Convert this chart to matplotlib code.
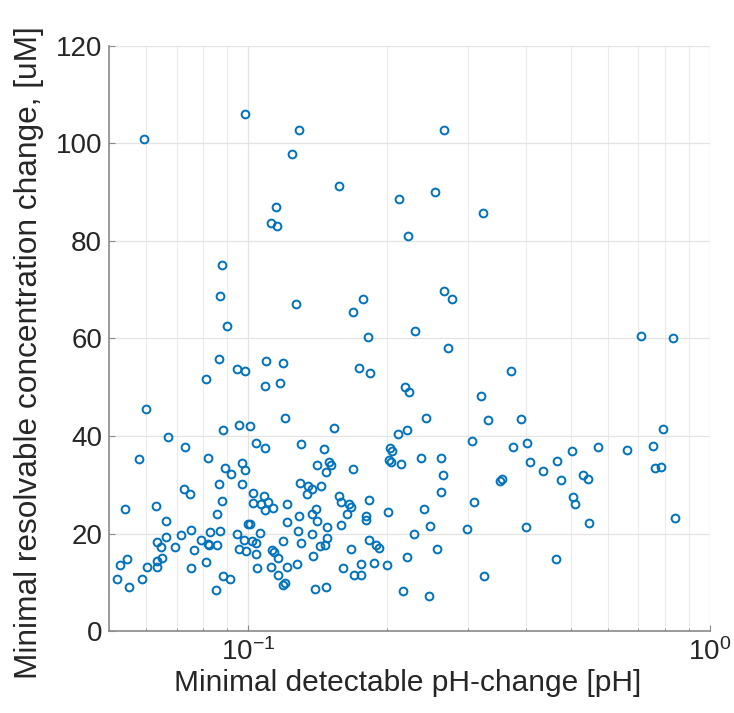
import numpy as np
import matplotlib.pyplot as plt
from matplotlib.ticker import LogLocator, NullFormatter

plt.rcParams['font.family'] = ['Liberation Sans', 'DejaVu Sans']

# minimal detectable pH-change [pH]
ph_change = [
    0.0985, 0.0596, 0.0877, 0.0868, 0.0901, 0.129, 0.1245, 0.157, 0.1148, 0.1122,
    0.1155, 0.212, 0.2223, 0.1272, 0.177, 0.169, 0.182, 0.230, 0.265, 0.254,
    0.323, 0.265, 0.277, 0.710, 0.831,
    0.0864, 0.0812, 0.0945, 0.0985, 0.0602, 0.0671, 0.0884, 0.0956, 0.1009, 0.1041,
    0.0730, 0.0581, 0.0818, 0.0892, 0.0917, 0.0972, 0.0985, 0.0866, 0.0970, 0.0727,
    0.0749, 0.1024, 0.0877, 0.1025, 0.0541, 0.0631, 0.0857, 0.0665, 0.0998, 0.1009,
    0.0754, 0.0829, 0.0870, 0.0947, 0.0715, 0.0663, 0.0790, 0.0635, 0.0980, 0.1019,
    0.1041, 0.0648, 0.0817, 0.0825, 0.0857, 0.0696, 0.0956, 0.0990, 0.0765, 0.1039,
    0.0547, 0.0650, 0.0636, 0.0529, 0.0811, 0.0605, 0.0635, 0.0752, 0.1047, 0.0520,
    0.0590, 0.0883, 0.0916, 0.0553, 0.0854,
    0.1094, 0.1191, 0.1736, 0.1837, 0.1087, 0.1171, 0.2184, 0.2228, 0.1203, 0.1538,
    0.2115, 0.2209, 0.1087, 0.1300, 0.1460, 0.2026, 0.2053, 0.2022, 0.2036, 0.2147,
    0.1413, 0.1495, 0.1514, 0.1475, 0.1685, 0.1298, 0.1351, 0.1378, 0.1340, 0.1441,
    0.1083, 0.1106, 0.1065, 0.1087, 0.1133, 0.1213, 0.1576, 0.1590, 0.1654, 0.1669,
    0.1638, 0.1827, 0.2006, 0.1403, 0.1378, 0.1408, 0.1287, 0.1216, 0.1798, 0.1804,
    0.1592, 0.1480, 0.1281, 0.1378, 0.1063, 0.2287, 0.1191, 0.1302, 0.1485, 0.1432,
    0.1468, 0.1825, 0.1890, 0.1924, 0.1671, 0.1129, 0.1137, 0.1161, 0.1383, 0.2206,
    0.1122, 0.1216, 0.1275, 0.1608, 0.1754, 0.1877, 0.1996, 0.1693, 0.1754, 0.1160,
    0.1189, 0.1204, 0.1394, 0.1477, 0.2165,
    0.2709, 0.371, 0.3194, 0.2424, 0.331, 0.390, 0.305, 0.375, 0.402, 0.237,
    0.262, 0.264, 0.262, 0.408, 0.435, 0.467, 0.475, 0.351, 0.354, 0.3085,
    0.2404, 0.2477, 0.2984, 0.399, 0.257, 0.465, 0.324, 0.2465,
    0.791, 0.502, 0.573, 0.660, 0.754, 0.760, 0.783, 0.530, 0.544, 0.506,
    0.511, 0.548, 0.839,
]

# minimal resolvable concentration change [uM]
conc_change = [
    106.1, 101.0, 75.0, 68.8, 62.6, 102.8, 97.8, 91.3, 87.0, 83.7,
    83.0, 88.7, 81.1, 67.1, 68.2, 65.4, 60.4, 61.6, 102.8, 90.0,
    85.8, 69.7, 68.2, 60.6, 60.0,
    55.8, 51.6, 53.7, 53.3, 45.5, 39.7, 41.3, 42.2, 42.1, 38.6,
    37.7, 35.3, 35.5, 33.4, 32.3, 34.5, 33.1, 30.2, 30.1, 29.2,
    28.2, 28.4, 26.6, 26.3, 25.0, 25.7, 23.9, 22.6, 21.9, 21.9,
    20.7, 20.3, 20.5, 20.0, 19.75, 19.3, 18.7, 18.3, 18.7, 18.5,
    18.0, 17.2, 17.9, 17.6, 17.6, 17.2, 16.8, 16.5, 16.6, 15.7,
    14.7, 14.9, 14.4, 13.5, 14.2, 13.1, 13.1, 13.0, 13.0, 10.7,
    10.7, 11.3, 10.7, 9.1, 8.4,
    55.4, 55.0, 53.9, 52.9, 50.3, 50.9, 50.0, 49.0, 43.7, 41.6,
    40.5, 41.3, 37.5, 38.3, 37.3, 37.6, 36.9, 35.1, 34.7, 34.3,
    34.0, 34.6, 34.1, 32.7, 33.2, 30.3, 29.8, 29.2, 28.2, 29.7,
    27.6, 26.5, 26.1, 24.8, 25.2, 26.0, 27.7, 26.5, 26.1, 25.4,
    24.1, 26.9, 24.4, 25.1, 24.0, 22.6, 23.6, 22.3, 23.6, 22.8,
    21.8, 21.3, 20.6, 20.0, 20.1, 19.9, 18.4, 18.1, 19.1, 17.5,
    17.6, 18.6, 17.6, 17.0, 16.8, 16.6, 16.3, 15.0, 15.3, 15.1,
    13.1, 13.1, 13.7, 12.9, 13.7, 13.9, 13.5, 11.5, 11.5, 11.5,
    9.4, 9.8, 8.6, 9.0, 8.3,
    58.1, 53.3, 48.3, 43.7, 43.3, 43.5, 38.9, 37.7, 38.6, 35.5,
    35.4, 32.1, 28.5, 34.7, 32.9, 34.9, 31.0, 30.8, 31.1, 26.5,
    25.0, 21.5, 21.0, 21.3, 16.9, 14.7, 11.3, 7.2,
    41.4, 36.9, 37.8, 37.1, 37.9, 33.4, 33.6, 32.0, 31.2, 27.5,
    26.0, 22.2, 23.2,
]

fig = plt.figure(figsize=(7.34, 7.13), dpi=100)
ax = fig.add_axes([0.1485, 0.115, 0.8188, 0.8205])

ax.plot(ph_change, conc_change, 'o', mfc='none', mec='#0072BD', ms=5.6, mew=1.4)

ax.set_xscale('log')
ax.set_xlim(0.05, 1)
ax.set_ylim(0, 120)
ax.set_yticks(np.arange(0, 121, 20))
ax.xaxis.set_major_locator(LogLocator(base=10, numticks=10))
ax.xaxis.set_minor_locator(LogLocator(base=10, subs=np.arange(2, 10), numticks=10))
ax.xaxis.set_minor_formatter(NullFormatter())

ax.set_axisbelow(True)
ax.grid(True, which='major', color='#e3e3e3', lw=0.9)
ax.grid(True, which='minor', axis='x', color='#ebebeb', lw=0.8)

for side in ['top', 'right']:
    ax.spines[side].set_visible(False)
for side in ['left', 'bottom']:
    ax.spines[side].set_color('#8a8a8a')
    ax.spines[side].set_linewidth(1.2)

ax.tick_params(which='major', direction='in', length=4, color='#8a8a8a',
               labelsize=20, labelcolor='#262626', pad=5)
ax.tick_params(which='minor', direction='in', length=2, color='#8a8a8a')

fig.text(0.555, 0.042, 'Minimal detectable pH-change [pH]', fontsize=21.5,
         color='#262626', ha='center', va='center')
fig.text(0.040, 0.505, 'Minimal resolvable concentration change, [uM]', fontsize=22.8,
         color='#262626', ha='center', va='center', rotation=90)

fig.savefig('out.png', dpi=100)
